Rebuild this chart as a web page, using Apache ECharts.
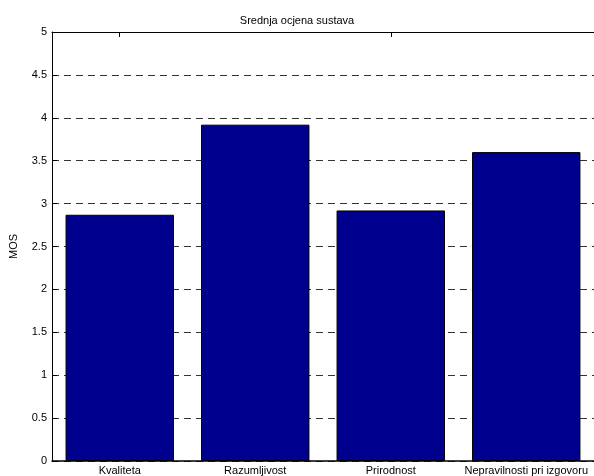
<!DOCTYPE html>
<html><head><meta charset="utf-8">
<script src="https://cdn.jsdelivr.net/npm/echarts@6/dist/echarts.min.js"></script>
<style>html,body{margin:0;padding:0;background:#fff}#c{width:594px;height:476px}</style>
</head><body><div id="c"></div>
<script>
const categories = ['Kvaliteta', 'Razumljivost', 'Prirodnost', 'Nepravilnosti pri izgovoru'];
const mosValues = [2.87, 3.92, 2.92, 3.6];
const yTicks = [0, 0.5, 1, 1.5, 2, 2.5, 3, 3.5, 4, 4.5, 5];

const font = 'Liberation Sans, Arial, sans-serif';
const chart = echarts.init(document.getElementById('c'), null, {renderer: 'canvas'});
chart.setOption({
  animation: false,
  backgroundColor: '#fff',
  title: {
    text: 'Srednja ocjena sustava', left: 'center', top: 10,
    textStyle: {fontFamily: font, fontSize: 11, fontWeight: 'normal', color: '#000'}
  },
  grid: {left: 50, right: -2, top: 32, bottom: 15, containLabel: false},
  xAxis: [{
    type: 'category', data: categories, position: 'bottom',
    axisLine: {lineStyle: {color: '#000', width: 1.5}},
    axisTick: {show: false},
    axisLabel: {fontFamily: font, fontSize: 11, color: '#000', margin: 4, interval: 0},
    splitLine: {show: false}
  }, {
    type: 'category', data: categories, position: 'top',
    axisLine: {lineStyle: {color: '#000', width: 1}},
    axisTick: {show: true, inside: true, alignWithLabel: true, length: 5, lineStyle: {color: '#000'}},
    axisLabel: {show: false}
  }],
  yAxis: [{
    type: 'value', min: 0, max: 5, interval: 0.5,
    name: 'MOS', nameLocation: 'middle', nameGap: 33, nameRotate: 90,
    nameTextStyle: {fontFamily: font, fontSize: 11, color: '#000'},
    axisLine: {show: true, lineStyle: {color: '#000', width: 1}},
    axisTick: {show: true, inside: true, length: 5, lineStyle: {color: '#000'}},
    axisLabel: {fontFamily: font, fontSize: 11, color: '#000', margin: 5,
      formatter: v => yTicks.includes(v) ? String(v) : ''},
    splitLine: {show: true, lineStyle: {color: '#333', type: [7, 5], width: 1}}
  }],
  series: [{
    type: 'bar', data: mosValues, barWidth: '80%', xAxisIndex: 0,
    itemStyle: {color: '#00008F', borderColor: '#000', borderWidth: 1},
    z: 3
  }]
});
</script></body></html>
